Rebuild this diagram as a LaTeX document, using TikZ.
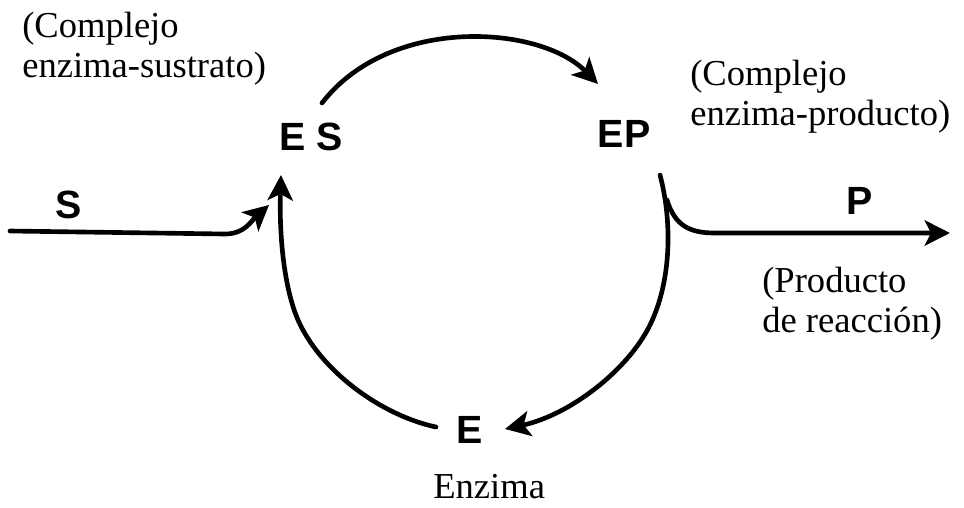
\documentclass[tikz,border=0pt]{standalone}
\usepackage{fontspec}
\setmainfont{Liberation Serif}
\setsansfont{Liberation Sans}
\usetikzlibrary{arrows.meta}
\begin{document}
\begin{tikzpicture}[x=0.025cm,y=-0.025cm,
  conn/.style={line width=3.3pt, line cap=round, -{Stealth[length=18pt,width=18pt,inset=4.5pt]}},
  species/.style={inner sep=0pt, font=\sffamily\bfseries\fontsize{28pt}{30pt}\selectfont},
  note/.style={inner sep=0pt, align=left, font=\fontsize{26pt}{28pt}\selectfont}]
\path[use as bounding box] (0,0) rectangle (964,507);

% species labels
\node[species] (ES) at (311,137) {E S};
\node[species] (EP) at (624,134) {EP};
\node[species] (S) at (69,205) {S};
\node[species] (P) at (860,201) {P};
\node[species] (E) at (470,430) {E};

% notes
\node[note, anchor=north west] (nES) at (22,12) {(Complejo\\enzima-sustrato)};
\node[note, anchor=north west] (nEP) at (690,60) {(Complejo\\enzima-producto)};
\node[note, anchor=north west] (nP) at (762,267) {(Producto\\de reacción)};
\node[note, anchor=base west] (nE) at (433,498) {Enzima};

% connector end points
\coordinate (esTop) at (322,103);
\coordinate (epIn) at (598,84);
\coordinate (epOut) at (660,175);
\coordinate (rMid) at (650,325);
\coordinate (eIn) at (505,429);
\coordinate (eOut) at (436,427);
\coordinate (lMid) at (298,320);
\coordinate (esIn) at (281,175);
\coordinate (sStart) at (10,231);
\coordinate (sBend) at (225,234);
\coordinate (sIn) at (269,205);
\coordinate (pFork) at (667,200);
\coordinate (pBend) at (715,233);
\coordinate (pEnd) at (950,233);

% ES -> EP
\draw[conn] (esTop) .. controls (390,15) and (540,25) .. (epIn);
% EP -> E
\draw[conn] (epOut) .. controls (672,220) and (672,280) .. (rMid)
            .. controls (628,370) and (570,415) .. (eIn);
% E -> ES
\draw[conn] (eOut) .. controls (380,415) and (320,370) .. (lMid)
            .. controls (285,290) and (279,240) .. (esIn);
% S -> ES
\draw[conn] (sStart) -- (sBend) .. controls (245,234) and (252,220) .. (sIn);
% EP -> P
\draw[conn] (pFork) .. controls (675,226) and (690,233) .. (pBend) -- (pEnd);
\end{tikzpicture}
\end{document}
